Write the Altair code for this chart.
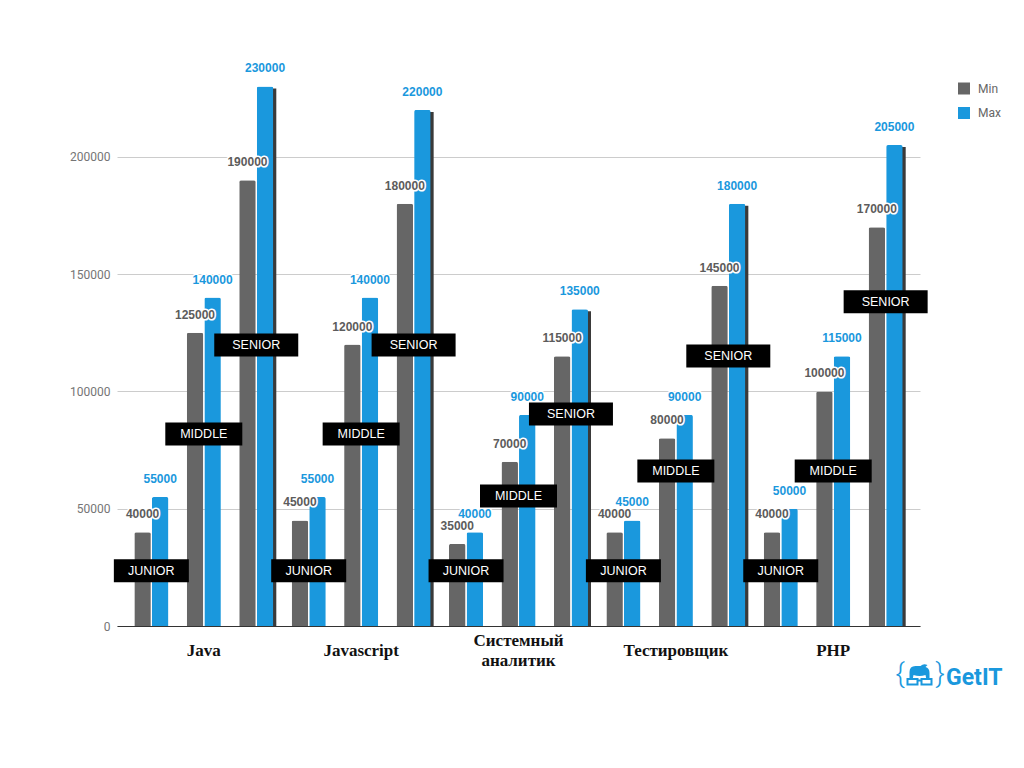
import altair as alt
import pandas as pd

categories = ["Java", "Javascript", "Системный аналитик", "Тестировщик", "PHP"]
category_labels = ["Java", "Javascript", "Системный\nаналитик", "Тестировщик", "PHP"]
levels = ["JUNIOR", "MIDDLE", "SENIOR"]
series = ["Min", "Max"]

min_values = [40000, 125000, 190000,
              45000, 120000, 180000,
              35000, 70000, 115000,
              40000, 80000, 145000,
              40000, 100000, 170000]
max_values = [55000, 140000, 230000,
              55000, 140000, 220000,
              40000, 90000, 135000,
              45000, 90000, 180000,
              50000, 115000, 205000]
# vertical placement (in data units) of the black level tags
tag_values = [23500, 81900, 119800,
              23500, 81900, 119800,
              23500, 55400, 90400,
              23500, 66100, 115100,
              23500, 66100, 138200]
y_ticks = [0, 50000, 100000, 150000, 200000]

GREY = "#666666"
BLUE = "#1A98DD"

keys = [f"{c}|{l}" for c in categories for l in levels]

rows = []
tag_rows = []
for i, k in enumerate(keys):
    c, l = k.split("|")
    rows.append(dict(key=k, cat=c, level=l, type="Min", value=min_values[i]))
    rows.append(dict(key=k, cat=c, level=l, type="Max", value=max_values[i]))
    tag_rows.append(dict(key=k, level=l, value=tag_values[i]))
bars_df = pd.DataFrame(rows)
tags_df = pd.DataFrame(tag_rows)
cat_df = pd.DataFrame({"key": [f"{c}|MIDDLE" for c in categories], "label": category_labels})

x_enc = alt.X("key:N",
              scale=alt.Scale(domain=keys, paddingInner=0.35, paddingOuter=0.33),
              axis=alt.Axis(title=None, labels=False, ticks=False, domain=True,
                            domainColor="#333333", domainWidth=1, grid=False))
y_enc = alt.Y("value:Q",
              scale=alt.Scale(domain=[0, 240000], nice=False, zero=True),
              axis=alt.Axis(title=None, values=y_ticks, format="d", grid=True,
                            gridColor="#cccccc", domain=False, ticks=False,
                            labelColor="#757575", labelFontSize=12, labelFont="Roboto",
                            labelPadding=7))
xoff_enc = alt.XOffset("type:N", scale=alt.Scale(domain=series, paddingInner=0.06, paddingOuter=0))

base = alt.Chart(bars_df)

# dark drop-shadow on the right of the senior "Max" bars
shadow = base.transform_filter(
    (alt.datum.level == "SENIOR") & (alt.datum.type == "Max")
).mark_bar(color="#3a3a3a", width=16.5, xOffset=11.8, yOffset=2, clip=True).encode(x=x_enc, y=y_enc)

bars = base.mark_bar(cornerRadiusTopLeft=2, cornerRadiusTopRight=2).encode(
    x=x_enc, y=y_enc, xOffset=xoff_enc,
    color=alt.Color("type:N", scale=alt.Scale(domain=series, range=[GREY, BLUE]),
                    legend=alt.Legend(orient="none", legendX=841, legendY=19.5, title=None,
                                      symbolType="square", symbolSize=144, symbolStrokeWidth=0,
                                      labelFont="Roboto", labelFontSize=12, labelColor="#666666",
                                      labelOffset=8, rowPadding=12.5, padding=0)))

text_props = dict(baseline="bottom", dy=-11, fontSize=12, fontWeight="bold", font="Liberation Sans")
halo = base.mark_text(color="white", stroke="white", strokeWidth=3, **text_props).encode(
    x=x_enc, y=y_enc, xOffset=xoff_enc, text=alt.Text("value:Q", format="d"))
lab_min = base.transform_filter(alt.datum.type == "Min").mark_text(color="#5c5c5c", **text_props).encode(
    x=x_enc, y=y_enc, xOffset=xoff_enc, text=alt.Text("value:Q", format="d"))
lab_max = base.transform_filter(alt.datum.type == "Max").mark_text(color=BLUE, **text_props).encode(
    x=x_enc, y=y_enc, xOffset=xoff_enc, text=alt.Text("value:Q", format="d"))

tag_paths = ["M-37.5,-11.5H37.5V11.5H-37.5Z",
             "M-38.5,-11.5H38.5V11.5H-38.5Z",
             "M-42,-11.5H42V11.5H-42Z"]
tags = alt.Chart(tags_df).mark_point(filled=True, color="black", opacity=1, size=4, strokeWidth=0).encode(
    x=x_enc, y=y_enc,
    shape=alt.Shape("level:N", scale=alt.Scale(domain=levels, range=tag_paths), legend=None))
tag_text = alt.Chart(tags_df).mark_text(color="white", fontSize=12.5, font="Liberation Sans",
                                        baseline="middle").encode(x=x_enc, y=y_enc, text="level:N")

cat_props = dict(font="Liberation Serif", fontWeight="bold", fontSize=17, baseline="middle",
                 lineHeight=20, lineBreak="\n", color="#111111")
cat_single = alt.Chart(cat_df).transform_filter(
    "indexof(datum.label, '\\n') < 0").mark_text(**cat_props).encode(
    x=x_enc, y=alt.value(588), text="label:N")
cat_multi = alt.Chart(cat_df).transform_filter(
    "indexof(datum.label, '\\n') >= 0").mark_text(**cat_props).encode(
    x=x_enc, y=alt.value(578), text="label:N")

# GetIT logo
logo_df = pd.DataFrame({"t": ["GetIT"]})
logo_word = alt.Chart(logo_df).mark_text(font="Roboto", fontWeight="bold", fontSize=23, color=BLUE,
                                         align="left", baseline="middle").encode(
    x=alt.value(829), y=alt.value(615), text="t:N")
brace_df = pd.DataFrame({"t": ["{", "}"], "px": [783, 823]})
braces = alt.Chart(brace_df).mark_text(font="Roboto", fontWeight=300, fontSize=28, color=BLUE,
                                       baseline="middle").encode(
    x=alt.X("px:Q", scale=None), y=alt.value(612), text="t:N")
hair_path = "M-10,4 L-10,-4 Q-10,-10 -4,-10 L1,-10 Q4,-13 8,-11 L6,-9 Q10,-8 10,-3 L10,4 L7,4 L6,-1 Q0,1 -6,-1 L-7,4 Z"
glasses_path = "M-12,5 H-2 V10.5 H-12 Z M2,5 H12 V10.5 H2 Z M-2,6.5 H2"
icon_df = pd.DataFrame({"p": ["hair"]})
hair = alt.Chart(icon_df).mark_point(shape=hair_path, filled=True, color=BLUE, opacity=1,
                                     size=4, strokeWidth=0).encode(x=alt.value(802.5), y=alt.value(613))
glasses = alt.Chart(icon_df).mark_point(shape=glasses_path, filled=False, color=BLUE, opacity=1,
                                        size=4, strokeWidth=2).encode(x=alt.value(802.5), y=alt.value(611))

chart = alt.layer(
    shadow, bars, halo, lab_min, lab_max, tags, tag_text, cat_single, cat_multi,
    logo_word, braces, hair, glasses
).properties(
    width=803, height=563,
    autosize=alt.AutoSizeParams(type="none"),
    padding={"left": 109, "top": 55, "right": 96, "bottom": 95},
    background="white",
).configure_view(stroke=None)

chart.save("out.html", embed_options={"renderer": "svg", "actions": False})
